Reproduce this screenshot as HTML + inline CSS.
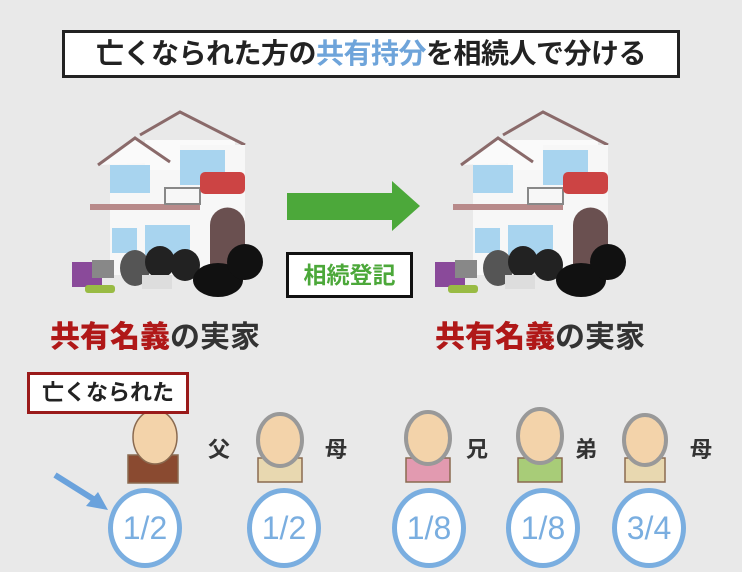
<!DOCTYPE html><html><head><meta charset="utf-8"><style>
body{margin:0;width:742px;height:572px;background:#e9e9e9;position:relative;overflow:hidden;font-family:"Liberation Sans","Noto Sans CJK JP",sans-serif}
.a{position:absolute}
.t{left:62px;top:30px;width:612px;height:42px;background:#fff;border:3px solid #222;font-size:28px;font-weight:bold;text-align:center;line-height:42px;color:#222;letter-spacing:-0.5px}
.lab{font-size:30px;font-weight:bold;color:#333;top:312px}
.lab b{color:#b01818}
.c{width:64px;height:70px;border:5px solid #7aaee0;border-radius:50%;background:#fff;color:#7aaee0;font-size:32px;text-align:center;line-height:70px;top:488px}
.r{font-size:22px;font-weight:bold;color:#333;top:432px}
</style></head><body>
<div class="a t">亡くなられた方の<span style="color:#6ea4da">共有持分</span>を相続人で分ける</div>
<svg class="a" style="left:0;top:0" width="742" height="572">
<defs><g id="h">
<rect x="110" y="160" width="95" height="115" fill="#f7f7f7"/>
<rect x="145" y="140" width="90" height="30" fill="#fafafa"/>
<polygon points="98,165 135,138 170,162" fill="#fafafa"/>
<polyline points="98,165 135,138 170,162" fill="none" stroke="#8a6a6a" stroke-width="3"/>
<polyline points="140,135 180,112 245,145" fill="none" stroke="#8a6a6a" stroke-width="3"/>
<rect x="180" y="145" width="65" height="130" fill="#f7f7f7"/>
<rect x="110" y="165" width="40" height="28" fill="#a8d4ef"/>
<rect x="180" y="150" width="45" height="35" fill="#a8d4ef"/>
<rect x="90" y="204" width="110" height="6" fill="#b88a8a"/>
<rect x="165" y="188" width="35" height="16" fill="none" stroke="#888" stroke-width="2"/>
<rect x="112" y="228" width="25" height="25" fill="#a8d4ef"/>
<rect x="145" y="225" width="45" height="30" fill="#a8d4ef"/>
<path d="M210,280 V225 A17,17 0 0 1 245,225 V280Z" fill="#6a5050"/>
<rect x="200" y="172" width="45" height="22" fill="#c44" rx="5"/>
<rect x="72" y="262" width="30" height="25" fill="#8a4a9a"/>
<rect x="92" y="260" width="22" height="18" fill="#888"/>
<ellipse cx="135" cy="268" rx="15" ry="18" fill="#555"/>
<ellipse cx="160" cy="262" rx="15" ry="16" fill="#222"/>
<ellipse cx="185" cy="265" rx="15" ry="16" fill="#222"/>
<rect x="142" y="275" width="30" height="14" fill="#ddd"/>
<ellipse cx="218" cy="280" rx="25" ry="17" fill="#111"/>
<ellipse cx="245" cy="262" rx="18" ry="18" fill="#111"/>
<rect x="85" y="285" width="30" height="8" fill="#9b4" rx="3"/>
</g></defs>
<use href="#h"/><use href="#h" x="363"/>
<polygon points="287,193 392,193 392,181 420,206 392,231 392,220 287,220" fill="#4ca83a"/>
<line x1="55" y1="475" x2="98" y2="502" stroke="#6aa2dc" stroke-width="6"/>
<polygon points="108,510 86,506 98,492" fill="#6aa2dc"/>
<g fill="#f3d3aa" stroke="#8a6a50" stroke-width="1.5">
<rect x="128" y="455" width="50" height="28" fill="#8a4a30"/>
<ellipse cx="155" cy="437" rx="22" ry="27"/>
<rect x="258" y="458" width="44" height="24" fill="#e8d8b0"/>
<ellipse cx="280" cy="440" rx="22" ry="26" stroke="#999" stroke-width="4"/>
<rect x="406" y="458" width="44" height="24" fill="#e29ab0"/>
<ellipse cx="428" cy="438" rx="22" ry="26" stroke="#999" stroke-width="4"/>
<rect x="518" y="458" width="44" height="24" fill="#a8cc78"/>
<ellipse cx="540" cy="436" rx="22" ry="27" stroke="#999" stroke-width="4"/>
<rect x="625" y="458" width="40" height="24" fill="#e8d8b0"/>
<ellipse cx="645" cy="440" rx="21" ry="25" stroke="#999" stroke-width="4"/>
</g></svg>
<div class="a" style="left:286px;top:252px;width:121px;height:40px;border:3px solid #111;background:#fff;color:#4ca83a;font-size:23px;font-weight:bold;text-align:center;line-height:40px">相続登記</div>
<div class="a lab" style="left:50px"><b>共有名義</b>の実家</div>
<div class="a lab" style="left:435px"><b>共有名義</b>の実家</div>
<div class="a" style="left:27px;top:372px;width:156px;height:36px;border:3px solid #9a1a1a;background:#fff;font-size:22px;font-weight:bold;text-align:center;line-height:36px;color:#222">亡くなられた</div>
<div class="a r" style="left:208px">父</div><div class="a r" style="left:325px">母</div>
<div class="a r" style="left:466px">兄</div><div class="a r" style="left:575px">弟</div><div class="a r" style="left:690px">母</div>
<div class="a c" style="left:108px">1/2</div><div class="a c" style="left:247px">1/2</div>
<div class="a c" style="left:392px">1/8</div><div class="a c" style="left:506px">1/8</div><div class="a c" style="left:612px">3/4</div>
</body></html>
